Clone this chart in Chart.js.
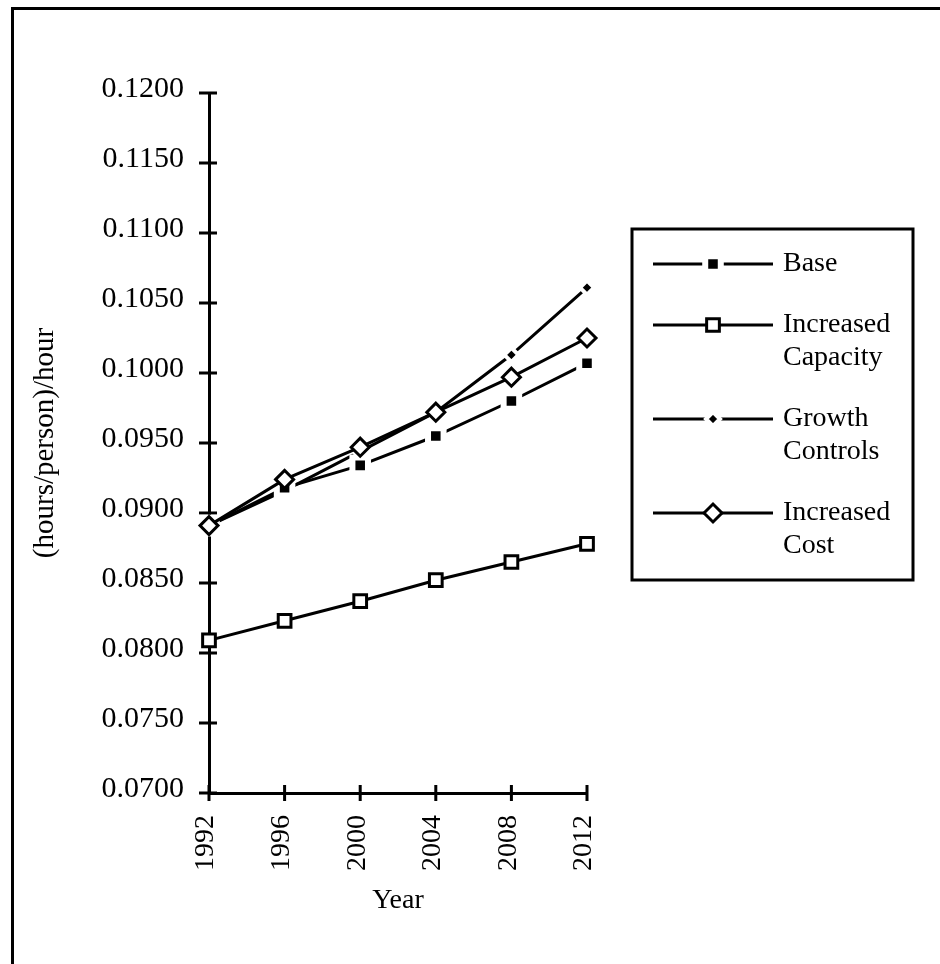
<!DOCTYPE html>
<html>
<head>
<meta charset="utf-8">
<title>Travel time per person</title>
<script src="https://cdn.jsdelivr.net/npm/chart.js@4.4.0/dist/chart.umd.min.js"></script>
<style>
    html, body {
        margin: 0;
        padding: 0;
        background: #fff;
        overflow: hidden;
    }
    .page {
        position: relative;
        width: 940px;
        height: 964px;
        overflow: hidden;
    }
    .frame {
        position: absolute;
        left: 11px;
        top: 7px;
        width: 1000px;
        height: 1000px;
        border: 3px solid #000;
    }
    canvas {
        position: absolute;
        left: 0;
        top: 0;
    }
</style>
</head>
<body>
<div class="page">
    <div class="frame"></div>
    <canvas id="chart" width="940" height="964"></canvas>
</div>
<script>
const years = ['1992', '1996', '2000', '2004', '2008', '2012'];
const seriesNames = ['Base', 'Increased Capacity', 'Growth Controls', 'Increased Cost'];
const base = [0.0891, 0.0918, 0.0934, 0.0955, 0.0980, 0.1007];
const increasedCapacity = [0.0809, 0.0823, 0.0837, 0.0852, 0.0865, 0.0878];
const growthControls = [0.0891, 0.0916, 0.0944, 0.0972, 0.1013, 0.1061];
const increasedCost = [0.0891, 0.0924, 0.0947, 0.0972, 0.0997, 0.1025];
const yMin = 0.07;
const yMax = 0.12;
const yStep = 0.005;

const serif = '"Liberation Serif", "Times New Roman", serif';

// marker look per series (filled square, open square, small diamond, open diamond)
// order: lower number is drawn on top
const markers = [
    { pointStyle: 'rect', radius: 11, fill: '#000', stroke: '#fff', borderWidth: 6, order: 2 },
    { pointStyle: 'rect', radius: 9, fill: '#fff', stroke: '#000', borderWidth: 3, order: 1 },
    { pointStyle: 'rectRot', radius: 7, fill: '#000', stroke: '#fff', borderWidth: 4, order: 3 },
    { pointStyle: 'rectRot', radius: 9, fill: '#fff', stroke: '#000', borderWidth: 3, order: 0 }
];

function makeDataset(index, values) {
    const m = markers[index];
    return {
        label: seriesNames[index],
        data: values,
        order: m.order,
        borderColor: '#000',
        borderWidth: 3,
        fill: false,
        tension: 0,
        pointStyle: m.pointStyle,
        pointRadius: m.radius,
        pointHoverRadius: m.radius,
        pointBackgroundColor: m.fill,
        pointBorderColor: m.stroke,
        pointBorderWidth: m.borderWidth
    };
}

function drawMarker(ctx, m, x, y) {
    ctx.save();
    ctx.fillStyle = m.fill;
    ctx.strokeStyle = m.stroke;
    ctx.lineWidth = m.borderWidth;
    Chart.helpers.drawPoint(ctx, { pointStyle: m.pointStyle, radius: m.radius, rotation: 0, borderWidth: m.borderWidth }, x, y);
    ctx.restore();
}

// tick marks that cross the axis lines
const crossTicks = {
    id: 'crossTicks',
    beforeDatasetsDraw(chart) {
        const ctx = chart.ctx;
        const xScale = chart.scales.x;
        const yScale = chart.scales.y;
        const axisX = chart.chartArea.left;
        const axisY = chart.chartArea.bottom;
        ctx.save();
        ctx.strokeStyle = '#000';
        ctx.lineWidth = 3;
        ctx.beginPath();
        yScale.ticks.forEach((tick, i) => {
            const py = yScale.getPixelForTick(i);
            ctx.moveTo(axisX - 10, py);
            ctx.lineTo(axisX + 8, py);
        });
        xScale.ticks.forEach((tick, i) => {
            const px = xScale.getPixelForTick(i);
            ctx.moveTo(px, axisY - 8);
            ctx.lineTo(px, axisY + 8);
        });
        ctx.stroke();
        ctx.restore();
    }
};

// boxed legend on the right with two-line labels
const boxLegend = {
    id: 'boxLegend',
    afterDraw(chart) {
        const ctx = chart.ctx;
        ctx.save();
        ctx.strokeStyle = '#000';
        ctx.lineWidth = 3;
        ctx.strokeRect(632, 229, 281, 351);

        ctx.font = '28px ' + serif;
        ctx.fillStyle = '#000';
        ctx.textAlign = 'left';
        ctx.textBaseline = 'middle';

        let y = 264;
        chart.data.datasets.forEach((dataset, i) => {
            ctx.lineWidth = 3;
            ctx.strokeStyle = '#000';
            ctx.beginPath();
            ctx.moveTo(653, y);
            ctx.lineTo(773, y);
            ctx.stroke();
            drawMarker(ctx, markers[i], 713, y);

            const lines = dataset.label.split(' ');
            ctx.fillStyle = '#000';
            lines.forEach((line, j) => {
                ctx.fillText(line, 783, y + j * 33);
            });
            y += lines.length * 33 + 28;
        });
        ctx.restore();
    }
};

new Chart(document.getElementById('chart'), {
    type: 'line',
    data: {
        labels: years,
        datasets: [
            makeDataset(0, base),
            makeDataset(1, increasedCapacity),
            makeDataset(2, growthControls),
            makeDataset(3, increasedCost)
        ]
    },
    options: {
        responsive: false,
        animation: false,
        events: [],
        layout: {
            padding: { top: 93, right: 353, left: 0, bottom: 0 }
        },
        plugins: {
            legend: { display: false },
            tooltip: { enabled: false }
        },
        scales: {
            x: {
                offset: false,
                afterFit: (scale) => { scale.height = 171; },
                grid: { display: false, drawTicks: false },
                border: { display: true, color: '#000', width: 3 },
                ticks: {
                    color: '#000',
                    font: { family: serif, size: 28 },
                    minRotation: 90,
                    maxRotation: 90,
                    padding: 22,
                    labelOffset: -3
                },
                title: {
                    display: true,
                    text: 'Year',
                    color: '#000',
                    font: { family: serif, size: 28 },
                    padding: { top: 0, bottom: 47 }
                }
            },
            y: {
                min: yMin,
                max: yMax,
                afterFit: (scale) => { scale.width = 209; },
                grid: { display: false, drawTicks: false },
                border: { display: true, color: '#000', width: 3 },
                ticks: {
                    stepSize: yStep,
                    color: '#000',
                    font: { family: serif, size: 30 },
                    padding: 25,
                    labelOffset: -4,
                    callback: (value) => value.toFixed(4)
                },
                title: {
                    display: true,
                    text: '(hours/person)/hour',
                    color: '#000',
                    font: { family: serif, size: 29 },
                    padding: { top: 28, bottom: 0 }
                }
            }
        }
    },
    plugins: [crossTicks, boxLegend]
});
</script>
</body>
</html>
